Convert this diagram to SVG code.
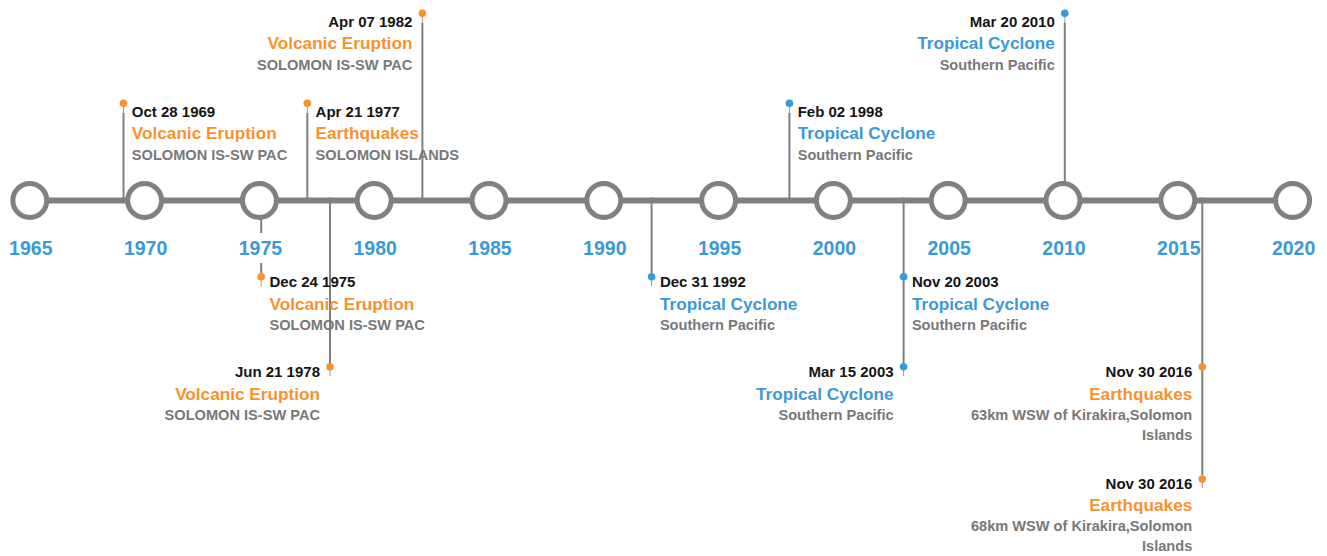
<svg xmlns="http://www.w3.org/2000/svg" width="1327" height="556" viewBox="0 0 1327 556">
<defs>
<radialGradient id="cg" cx="0.5" cy="0.5" r="0.5">
<stop offset="0.78" stop-color="#ffffff"/>
<stop offset="1" stop-color="#c8c8c8"/>
</radialGradient>
<filter id="soft" x="-20%" y="-20%" width="140%" height="140%"><feGaussianBlur stdDeviation="0.6"/></filter>
</defs>
<style>
text{font-family:"Liberation Sans",Arial,Helvetica,sans-serif;font-weight:bold}
.axis{stroke:#808080;stroke-width:6}
.yc{fill:url(#cg);stroke:#808080;stroke-width:5}
.yl{font-size:19.5px;fill:#3a9ad8;text-anchor:middle}
.ybg{fill:#ffffff}
.con{stroke:#808080;stroke-width:2}
.stem{stroke:#9a9a9a;stroke-width:1}
.dot-o{fill:#f7922e}
.dot-b{fill:#3a9ad8}
.date{font-size:15px;fill:#141414}
.tt-o{font-size:17.2px;fill:#f7922e}
.tt-b{font-size:17.2px;fill:#3a9ad8}
.sub{font-size:14.6px;fill:#787878}
.end{text-anchor:end}
</style>
<g id="axis"><line class="axis" x1="29.8" y1="200.5" x2="1292" y2="200.5"/></g>
<g id="connectors">
<line class="con" x1="123.5" y1="113" x2="123.5" y2="198"/><line class="stem" x1="123.5" y1="106" x2="123.5" y2="113"/>
<line class="con" x1="261.2" y1="203" x2="261.2" y2="273"/><line class="stem" x1="261.2" y1="280" x2="261.2" y2="286"/>
<line class="con" x1="307.3" y1="113" x2="307.3" y2="198"/><line class="stem" x1="307.3" y1="106" x2="307.3" y2="113"/>
<line class="con" x1="330" y1="197.5" x2="330" y2="363"/><line class="stem" x1="330" y1="370" x2="330" y2="376"/>
<line class="con" x1="422.4" y1="23" x2="422.4" y2="198"/><line class="stem" x1="422.4" y1="16" x2="422.4" y2="23"/>
<line class="con" x1="651.6" y1="197.5" x2="651.6" y2="273"/><line class="stem" x1="651.6" y1="280" x2="651.6" y2="286"/>
<line class="con" x1="789.4" y1="113" x2="789.4" y2="198"/><line class="stem" x1="789.4" y1="106" x2="789.4" y2="113"/>
<line class="con" x1="903.6" y1="197.5" x2="903.6" y2="363"/><line class="stem" x1="903.6" y1="370" x2="903.6" y2="376"/>
<line class="con" x1="1064.8" y1="23" x2="1064.8" y2="198"/><line class="stem" x1="1064.8" y1="16" x2="1064.8" y2="23"/>
<line class="con" x1="1202.3" y1="197.5" x2="1202.3" y2="475"/><line class="stem" x1="1202.3" y1="482" x2="1202.3" y2="488"/>
</g>
<g id="years" filter="url(#soft)">
<circle class="yc" cx="29.8" cy="200.5" r="17"/>
<circle class="yc" cx="144.6" cy="200.5" r="17"/>
<circle class="yc" cx="259.4" cy="200.5" r="17"/>
<circle class="yc" cx="374.2" cy="200.5" r="17"/>
<circle class="yc" cx="489" cy="200.5" r="17"/>
<circle class="yc" cx="603.8" cy="200.5" r="17"/>
<circle class="yc" cx="718.6" cy="200.5" r="17"/>
<circle class="yc" cx="833.4" cy="200.5" r="17"/>
<circle class="yc" cx="948.2" cy="200.5" r="17"/>
<circle class="yc" cx="1063" cy="200.5" r="17"/>
<circle class="yc" cx="1177.8" cy="200.5" r="17"/>
<circle class="yc" cx="1292.6" cy="200.5" r="17"/>
</g>
<g id="year-labels">
<rect class="ybg" x="238.4" y="233" width="42" height="30"/>
<text class="yl" x="30.8" y="255">1965</text>
<text class="yl" x="145.6" y="255">1970</text>
<text class="yl" x="260.4" y="255">1975</text>
<text class="yl" x="375.2" y="255">1980</text>
<text class="yl" x="490" y="255">1985</text>
<text class="yl" x="604.8" y="255">1990</text>
<text class="yl" x="719.6" y="255">1995</text>
<text class="yl" x="834.4" y="255">2000</text>
<text class="yl" x="949.2" y="255">2005</text>
<text class="yl" x="1064" y="255">2010</text>
<text class="yl" x="1178.8" y="255">2015</text>
<text class="yl" x="1293.6" y="255">2020</text>
</g>
<g id="ev-1969">
<circle class="dot-o" cx="123.5" cy="103.3" r="3.8"/>
<text class="date" x="131.8" y="116.5">Oct 28 1969</text>
<text class="tt-o" x="131.8" y="139.4">Volcanic Eruption</text>
<text class="sub" x="131.8" y="160.2">SOLOMON IS-SW PAC</text>
</g>
<g id="ev-1975">
<circle class="dot-o" cx="261.2" cy="276.7" r="3.8"/>
<text class="date" x="269.5" y="287">Dec 24 1975</text>
<text class="tt-o" x="269.5" y="309.5">Volcanic Eruption</text>
<text class="sub" x="269.5" y="330">SOLOMON IS-SW PAC</text>
</g>
<g id="ev-1977">
<circle class="dot-o" cx="307.3" cy="103.3" r="3.8"/>
<text class="date" x="315.6" y="116.5">Apr 21 1977</text>
<text class="tt-o" x="315.6" y="139.4">Earthquakes</text>
<text class="sub" x="315.6" y="160.2">SOLOMON ISLANDS</text>
</g>
<g id="ev-1978">
<circle class="dot-o" cx="330" cy="366.7" r="3.8"/>
<text class="date end" x="320" y="377.3">Jun 21 1978</text>
<text class="tt-o end" x="320" y="400">Volcanic Eruption</text>
<text class="sub end" x="320" y="419.7">SOLOMON IS-SW PAC</text>
</g>
<g id="ev-1982">
<circle class="dot-o" cx="422.4" cy="13.3" r="3.8"/>
<text class="date end" x="412.4" y="26.5">Apr 07 1982</text>
<text class="tt-o end" x="412.4" y="49.4">Volcanic Eruption</text>
<text class="sub end" x="412.4" y="70.2">SOLOMON IS-SW PAC</text>
</g>
<g id="ev-1992">
<circle class="dot-b" cx="651.6" cy="276.7" r="3.8"/>
<text class="date" x="659.9" y="287">Dec 31 1992</text>
<text class="tt-b" x="659.9" y="309.5">Tropical Cyclone</text>
<text class="sub" x="659.9" y="330">Southern Pacific</text>
</g>
<g id="ev-1998">
<circle class="dot-b" cx="789.4" cy="103.3" r="3.8"/>
<text class="date" x="797.7" y="116.5">Feb 02 1998</text>
<text class="tt-b" x="797.7" y="139.4">Tropical Cyclone</text>
<text class="sub" x="797.7" y="160.2">Southern Pacific</text>
</g>
<g id="ev-2003-nov">
<circle class="dot-b" cx="903.6" cy="276.7" r="3.8"/>
<text class="date" x="911.9" y="287">Nov 20 2003</text>
<text class="tt-b" x="911.9" y="309.5">Tropical Cyclone</text>
<text class="sub" x="911.9" y="330">Southern Pacific</text>
</g>
<g id="ev-2003-mar">
<circle class="dot-b" cx="903.6" cy="366.7" r="3.8"/>
<text class="date end" x="893.6" y="377.3">Mar 15 2003</text>
<text class="tt-b end" x="893.6" y="400">Tropical Cyclone</text>
<text class="sub end" x="893.6" y="419.7">Southern Pacific</text>
</g>
<g id="ev-2010">
<circle class="dot-b" cx="1064.8" cy="13.3" r="3.8"/>
<text class="date end" x="1054.8" y="26.5">Mar 20 2010</text>
<text class="tt-b end" x="1054.8" y="49.4">Tropical Cyclone</text>
<text class="sub end" x="1054.8" y="70.2">Southern Pacific</text>
</g>
<g id="ev-2016-a">
<circle class="dot-o" cx="1202.3" cy="366.7" r="3.8"/>
<text class="date end" x="1192.3" y="377.3">Nov 30 2016</text>
<text class="tt-o end" x="1192.3" y="400">Earthquakes</text>
<text class="sub end" x="1192.3" y="419.7">63km WSW of Kirakira,Solomon</text>
<text class="sub end" x="1192.3" y="440">Islands</text>
</g>
<g id="ev-2016-b">
<circle class="dot-o" cx="1202.3" cy="479" r="3.8"/>
<text class="date end" x="1192.3" y="488.5">Nov 30 2016</text>
<text class="tt-o end" x="1192.3" y="510.8">Earthquakes</text>
<text class="sub end" x="1192.3" y="530.7">68km WSW of Kirakira,Solomon</text>
<text class="sub end" x="1192.3" y="550.5">Islands</text>
</g>
</svg>
